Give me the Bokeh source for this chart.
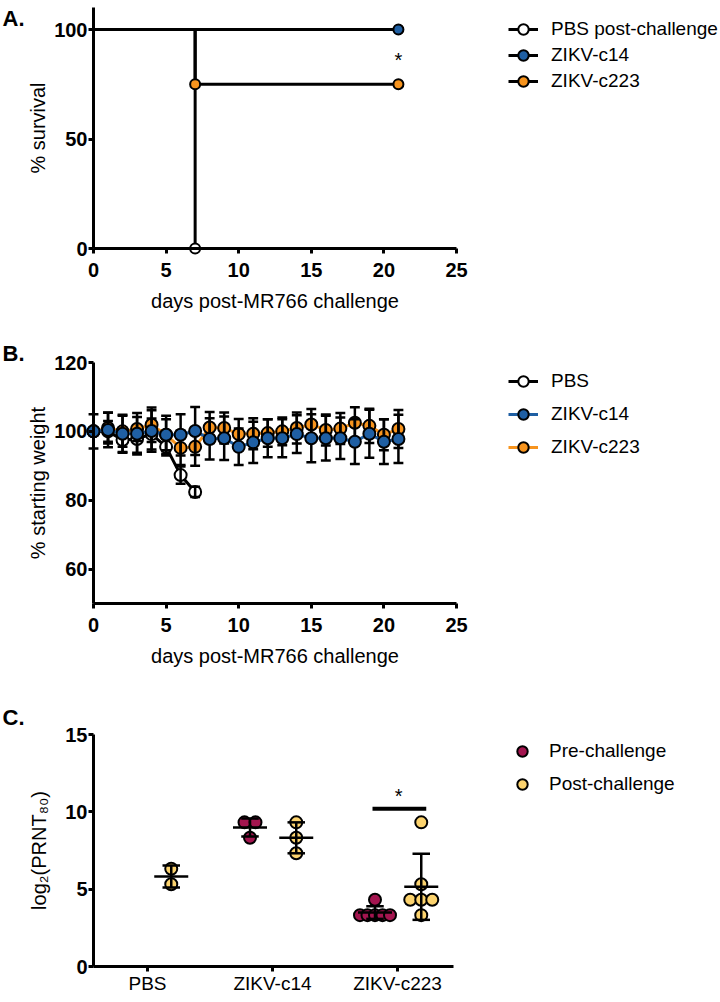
import numpy as np
from bokeh.plotting import figure
from bokeh.models import Legend, LegendItem, Label, FixedTicker, Range1d
from bokeh.layouts import column
from bokeh.embed import file_html
from bokeh.resources import INLINE

FONT = "Liberation Sans"
BLUE = "#1F5FA3"
ORANGE = "#F7941E"
MAROON = "#A3154F"
YELLOW = "#FCD36E"

# ---------------- Panel A: survival ----------------
surv_pbs_days = [0, 7]
surv_pbs = [100, 0]
surv_c14_days = [0, 21]
surv_c14 = [100, 100]
surv_c223_days = [0, 7, 21]
surv_c223 = [100, 75, 75]

# ---------------- Panel B: weight ----------------
w_days = list(range(22))
w_pbs_days = list(range(8))
w_pbs = [100, 100, 97.5, 97.8, 99.2, 95.5, 87.3, 82.4]
w_pbs_sd = [0, 3, 3.5, 4, 4.5, 2.5, 2.5, 1.5]
w_c14 = [100, 100.4, 99.3, 99.3, 100.1, 99, 99, 100.1, 97.8, 98, 95.5, 96.8,
         98, 98, 99.2, 98, 98, 98, 97, 99.3, 97, 97.8]
w_c14_sd = [5, 5, 5.5, 6, 6, 5.5, 6, 7, 6, 6.3, 5.3, 6, 5.5, 5.5, 5.5, 7,
            6.5, 6, 6.5, 7, 6.5, 7]
w_c223 = [100, 101, 100, 100.7, 101.9, 99, 95.2, 95.5, 101.1, 101, 99.2, 99.3,
          99.5, 100, 101, 102, 100.4, 100.8, 102.5, 101.6, 99, 100.7]
w_c223_sd = [0, 4.5, 4.5, 3.5, 5, 4.5, 5, 5.5, 4.5, 4.5, 4.4, 4.5, 4, 4, 4.5,
             4.5, 4.5, 4.5, 4.5, 5, 4.5, 5.5]

# ---------------- Panel C: PRNT80 ----------------
categories = ["PBS", "ZIKV-c14", "ZIKV-c223"]
pre_values = [[], [9.32, 9.32, 8.32], [3.32, 3.32, 3.32, 3.32, 3.32, 4.32]]
post_values = [[6.32, 5.32], [9.32, 8.32, 7.32], [9.32, 5.32, 4.32, 4.32, 4.32, 3.32]]

W = 720


def new_fig(h, xr, yr):
    return figure(width=W, height=h, output_backend="svg", toolbar_location=None,
                  x_range=Range1d(*xr), y_range=Range1d(*yr),
                  min_border_left=0, min_border_right=0, min_border_top=0,
                  min_border_bottom=0)


def style(p, xlabel, ylabel, xfix, yfix, xb, yb, ylab_standoff=2):
    p.xgrid.visible = False
    p.ygrid.visible = False
    p.outline_line_color = None
    p.background_fill_color = "white"
    p.border_fill_color = "white"
    for ax in (p.xaxis, p.yaxis):
        ax.axis_line_width = 3
        ax.axis_line_color = "black"
        ax.major_tick_line_width = 3
        ax.major_tick_line_color = "black"
        ax.major_tick_out = 5
        ax.major_tick_in = 0
        ax.minor_tick_line_color = None
        ax.major_label_text_font = FONT
        ax.major_label_text_font_size = "20px"
        ax.major_label_text_font_style = "bold"
        ax.major_label_text_color = "black"
        ax.axis_label_text_font = FONT
        ax.axis_label_text_font_size = "20px"
        ax.axis_label_text_font_style = "normal"
        ax.axis_label_text_color = "black"
    p.xaxis.axis_label = xlabel
    p.yaxis.axis_label = ylabel
    p.xaxis.major_label_standoff = 9
    p.yaxis.major_label_standoff = 1
    p.xaxis.axis_label_standoff = 10
    p.yaxis.axis_label_standoff = ylab_standoff
    p.xaxis.fixed_location = xfix
    p.yaxis.fixed_location = yfix
    p.xaxis.bounds = xb
    p.yaxis.bounds = yb


def panel_letter(p, txt, y):
    p.add_layout(Label(x=2, y=y, x_units="screen", y_units="screen", text=txt,
                       text_font=FONT, text_font_size="22px", text_font_style="bold",
                       text_baseline="middle", text_align="left", text_color="black"))


def make_legend(items, loc, spacing, standoff):
    return Legend(items=items, location=loc, orientation="vertical",
                  glyph_width=30, glyph_height=26, label_height=26,
                  label_standoff=standoff, spacing=spacing, padding=0, margin=0,
                  border_line_color=None, background_fill_color=None,
                  background_fill_alpha=0,
                  label_text_font=FONT, label_text_font_size="19px",
                  label_text_color="black")


# px geometry: x=0 day at 93 px, 14.52 px per day
PX_DAY = 14.52
X0 = 93
xr_days = (-X0 / PX_DAY, (W - X0) / PX_DAY)

# ================= Figure A =================
HA = 320
pxA = 2.19
pA = new_fig(HA, xr_days, (-(HA - 248) / pxA, 248 / pxA))
style(pA, "days post-MR766 challenge", "% survival", 0, 0, (0, 25), (0, 110))
pA.xaxis.ticker = FixedTicker(ticks=[0, 5, 10, 15, 20, 25])
pA.yaxis.ticker = FixedTicker(ticks=[0, 50, 100])

lA_c14 = pA.step(surv_c14_days, surv_c14, mode="after", line_color="black", line_width=3)
lA_c223 = pA.step(surv_c223_days, surv_c223, mode="after", line_color="black", line_width=3)
lA_pbs = pA.step(surv_pbs_days, surv_pbs, mode="after", line_color="black", line_width=3)
sA_pbs = pA.scatter(surv_pbs_days[1:], surv_pbs[1:], size=10, fill_color="white",
                    line_color="black", line_width=2)
sA_c14 = pA.scatter(surv_c14_days[1:], surv_c14[1:], size=10, fill_color=BLUE,
                    line_color="black", line_width=2)
sA_c223 = pA.scatter(surv_c223_days[1:], surv_c223[1:], size=10, fill_color=ORANGE,
                     line_color="black", line_width=2)
pA.add_layout(Label(x=21, y=86, text="*", text_font=FONT, text_font_size="20px",
                    text_align="center", text_baseline="middle", text_color="black"))
panel_letter(pA, "A.", HA - 18)
pA.add_layout(make_legend([
    LegendItem(label="PBS post-challenge", renderers=[lA_pbs, sA_pbs]),
    LegendItem(label="ZIKV-c14", renderers=[lA_c14, sA_c14]),
    LegendItem(label="ZIKV-c223", renderers=[lA_c223, sA_c223]),
], (508, 226), 0, 13))

# ================= Figure B =================
HB = 350
pxB = 241 / 70.0
pB = new_fig(HB, xr_days, (50 - (HB - 283) / pxB, 120 + 42 / pxB))
style(pB, "days post-MR766 challenge", "% starting weight", 50, 0, (0, 25), (50, 120))
pB.xaxis.ticker = FixedTicker(ticks=[0, 5, 10, 15, 20, 25])
pB.yaxis.ticker = FixedTicker(ticks=[60, 80, 100, 120])

CAP = 0.34


def errbars(p, xs, ys, sds, lw=2.5):
    xs = np.asarray(xs, float)
    ys = np.asarray(ys, float)
    sds = np.asarray(sds, float)
    m = sds > 0
    xs, ys, sds = xs[m], ys[m], sds[m]
    p.segment(xs, ys - sds, xs, ys + sds, line_color="black", line_width=lw)
    p.segment(xs - CAP, ys + sds, xs + CAP, ys + sds, line_color="black", line_width=lw)
    p.segment(xs - CAP, ys - sds, xs + CAP, ys - sds, line_color="black", line_width=lw)


lB_pbs = pB.line(w_pbs_days, w_pbs, line_color="black", line_width=3)
sB_pbs = pB.scatter(w_pbs_days, w_pbs, size=12, fill_color="white", line_color="black", line_width=2)
errbars(pB, w_pbs_days, w_pbs, w_pbs_sd)
lB_c223 = pB.line(w_days, w_c223, line_color=ORANGE, line_width=3)
sB_c223 = pB.scatter(w_days, w_c223, size=12, fill_color=ORANGE, line_color="black", line_width=2)
errbars(pB, w_days, w_c223, w_c223_sd)
errbars(pB, w_days, w_c14, w_c14_sd)
lB_c14 = pB.line(w_days, w_c14, line_color=BLUE, line_width=3)
sB_c14 = pB.scatter(w_days, w_c14, size=12, fill_color=BLUE, line_color="black", line_width=2)
panel_letter(pB, "B.", HB - 33)
pB.add_layout(make_legend([
    LegendItem(label="PBS", renderers=[lB_pbs, sB_pbs]),
    LegendItem(label="ZIKV-c14", renderers=[lB_c14, sB_c14]),
    LegendItem(label="ZIKV-c223", renderers=[lB_c223, sB_c223]),
], (508, 210), 7, 13))

# ================= Figure C =================
HC = 330
C_TOP, C_BOT = 64, 296     # frame pixel rows of y=15 and y=0 inside figure C
pxC = (C_BOT - C_TOP) / 15.0
PX_CAT = 125.0
XC0 = 0.568  # data value at the y-axis
pC = new_fig(HC, (XC0 - X0 / PX_CAT, XC0 + (W - X0) / PX_CAT),
             (-(HC - C_BOT) / pxC, 15 + C_TOP / pxC))
style(pC, "", "log\u2082(PRNT\u2088\u2080)", 0, XC0, (XC0, 3.448), (0, 15), ylab_standoff=12)
pC.xaxis.ticker = FixedTicker(ticks=[1, 2, 3])
pC.xaxis.major_label_overrides = {i + 1: c for i, c in enumerate(categories)}
pC.xaxis.major_label_text_font_style = "normal"
pC.xaxis.major_label_text_font_size = "19px"
pC.xaxis.major_label_standoff = 1
pC.yaxis.ticker = FixedTicker(ticks=[0, 5, 10, 15])

PRE_OFF, POST_OFF = -0.18, 0.19
MEAN_HW, CAP_HW = 0.136, 0.07


def spread(vals, step_max=0.088, width=0.24):
    counts = {}
    for v in vals:
        counts[v] = counts.get(v, 0) + 1
    seen, offs = {}, []
    for v in vals:
        n = counts[v]
        k = seen.get(v, 0)
        seen[v] = k + 1
        step = min(step_max, width / (n - 1)) if n > 1 else 0.0
        offs.append((k - (n - 1) / 2) * step)
    return offs


def summary(p, xc, vals):
    if len(vals) < 2:
        return
    m = float(np.mean(vals))
    s = float(np.std(vals, ddof=1))
    p.segment([xc - MEAN_HW], [m], [xc + MEAN_HW], [m], line_color="black", line_width=2.5)
    p.segment([xc], [m - s], [xc], [m + s], line_color="black", line_width=2.5)
    p.segment([xc - CAP_HW, xc - CAP_HW], [m - s, m + s], [xc + CAP_HW, xc + CAP_HW],
              [m - s, m + s], line_color="black", line_width=2.5)


pre_x, pre_y, post_x, post_y = [], [], [], []
for i, cat in enumerate(categories):
    base = i + 1
    for o, v in zip(spread(pre_values[i]), pre_values[i]):
        pre_x.append(base + PRE_OFF + o)
        pre_y.append(v)
    for o, v in zip(spread(post_values[i]), post_values[i]):
        post_x.append(base + POST_OFF + o)
        post_y.append(v)

sC_pre = pC.scatter(pre_x, pre_y, size=12, fill_color=MAROON, line_color="black", line_width=2)
sC_post = pC.scatter(post_x, post_y, size=12, fill_color=YELLOW, line_color="black", line_width=2)
for i, cat in enumerate(categories):
    summary(pC, i + 1 + PRE_OFF, pre_values[i])
    summary(pC, i + 1 + POST_OFF, post_values[i])

# significance bar between pre and post of ZIKV-c223
pC.segment([3 + PRE_OFF - 0.02], [10.2], [3 + POST_OFF + 0.04], [10.2],
           line_color="black", line_width=4)
pC.add_layout(Label(x=3.01, y=11.0, text="*", text_font=FONT, text_font_size="20px",
                    text_align="center", text_baseline="middle", text_color="black"))
panel_letter(pC, "C.", HC - 47)
pC.add_layout(make_legend([
    LegendItem(label="Pre-challenge", renderers=[sC_pre]),
    LegendItem(label="Post-challenge", renderers=[sC_post]),
], (507, 203), 7, 12))

layout = column(pA, pB, pC, spacing=0)
open("out.html", "w").write(file_html(layout, INLINE))
